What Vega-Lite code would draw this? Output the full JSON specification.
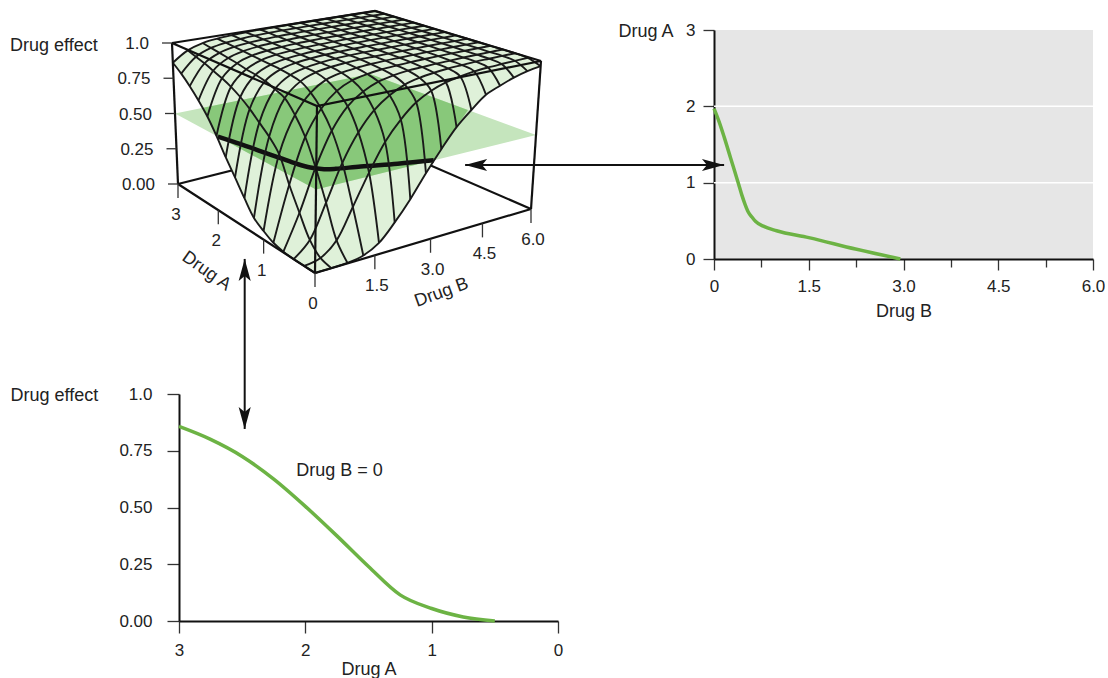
{"$schema":"https://vega.github.io/schema/vega-lite/v6.json","padding":{"left":10,"top":6,"right":0,"bottom":0},"background":"white","config":{"font":"Liberation Sans","view":{"stroke":null},"axis":{"labelFont":"Liberation Sans","titleFont":"Liberation Sans","labelFontSize":17,"titleFontSize":18,"titleFontWeight":"normal","labelColor":"#222","titleColor":"#222","domainColor":"#111","domainWidth":2,"tickColor":"#333","tickWidth":1.3,"grid":false,"labelFlush":false,"labelOverlap":false},"text":{"font":"Liberation Sans","fontSize":17,"color":"#222"}},"datasets":{"isobole":[{"drugB":0,"drugA":1.97},{"drugB":0.08,"drugA":1.8},{"drugB":0.16,"drugA":1.6},{"drugB":0.26,"drugA":1.33},{"drugB":0.39,"drugA":0.98},{"drugB":0.44,"drugA":0.84},{"drugB":0.49,"drugA":0.72},{"drugB":0.54,"drugA":0.62},{"drugB":0.6,"drugA":0.55},{"drugB":0.66,"drugA":0.49},{"drugB":0.78,"drugA":0.43},{"drugB":0.99,"drugA":0.37},{"drugB":1.5,"drugA":0.28},{"drugB":2.24,"drugA":0.13},{"drugB":2.95,"drugA":0}],"dose":[{"drugA":3,"effect":0.857},{"drugA":2.75,"effect":0.8},{"drugA":2.5,"effect":0.725},{"drugA":2.25,"effect":0.625},{"drugA":2,"effect":0.505},{"drugA":1.75,"effect":0.375},{"drugA":1.5,"effect":0.24},{"drugA":1.25,"effect":0.115},{"drugA":1,"effect":0.055},{"drugA":0.75,"effect":0.018},{"drugA":0.5,"effect":0}]},"vconcat":[{"hconcat":[{"width":500,"height":229,"data":{"values":[
{"part":"s","A":0,"B":0,"E":0},{"part":"s","A":0,"B":0.4,"E":0},{"part":"s","A":0,"B":0.8,"E":0.003},{"part":"s","A":0,"B":1.2,"E":0.02},{"part":"s","A":0,"B":1.6,"E":0.07},{"part":"s","A":0,"B":2,"E":0.17},{"part":"s","A":0,"B":2.4,"E":0.29},{"part":"s","A":0,"B":2.8,"E":0.43},{"part":"s","A":0,"B":3.2,"E":0.56},{"part":"s","A":0,"B":3.6,"E":0.68},{"part":"s","A":0,"B":4,"E":0.77},{"part":"s","A":0,"B":4.4,"E":0.85},{"part":"s","A":0,"B":4.8,"E":0.89},{"part":"s","A":0,"B":5.2,"E":0.925},{"part":"s","A":0,"B":5.6,"E":0.95},{"part":"s","A":0,"B":6,"E":0.965},
{"part":"s","A":0.2,"B":0,"E":0},{"part":"s","A":0.2,"B":0.4,"E":0.02},{"part":"s","A":0.2,"B":0.8,"E":0.1},{"part":"s","A":0.2,"B":1.2,"E":0.28},{"part":"s","A":0.2,"B":1.6,"E":0.47},{"part":"s","A":0.2,"B":2,"E":0.64},{"part":"s","A":0.2,"B":2.4,"E":0.76},{"part":"s","A":0.2,"B":2.8,"E":0.85},{"part":"s","A":0.2,"B":3.2,"E":0.905},{"part":"s","A":0.2,"B":3.6,"E":0.94},{"part":"s","A":0.2,"B":4,"E":0.96},{"part":"s","A":0.2,"B":4.4,"E":0.975},{"part":"s","A":0.2,"B":4.8,"E":0.983},{"part":"s","A":0.2,"B":5.2,"E":0.988},{"part":"s","A":0.2,"B":5.6,"E":0.992},{"part":"s","A":0.2,"B":6,"E":0.995},
{"part":"s","A":0.4,"B":0,"E":0},{"part":"s","A":0.4,"B":0.4,"E":0.09},{"part":"s","A":0.4,"B":0.8,"E":0.295},{"part":"s","A":0.4,"B":1.2,"E":0.52},{"part":"s","A":0.4,"B":1.6,"E":0.69},{"part":"s","A":0.4,"B":2,"E":0.81},{"part":"s","A":0.4,"B":2.4,"E":0.885},{"part":"s","A":0.4,"B":2.8,"E":0.935},{"part":"s","A":0.4,"B":3.2,"E":0.96},{"part":"s","A":0.4,"B":3.6,"E":0.975},{"part":"s","A":0.4,"B":4,"E":0.985},{"part":"s","A":0.4,"B":4.4,"E":0.99},{"part":"s","A":0.4,"B":4.8,"E":0.995},{"part":"s","A":0.4,"B":5.2,"E":0.997},{"part":"s","A":0.4,"B":5.6,"E":0.999},{"part":"s","A":0.4,"B":6,"E":1},
{"part":"s","A":0.6,"B":0,"E":0.005},{"part":"s","A":0.6,"B":0.4,"E":0.22},{"part":"s","A":0.6,"B":0.8,"E":0.48},{"part":"s","A":0.6,"B":1.2,"E":0.69},{"part":"s","A":0.6,"B":1.6,"E":0.825},{"part":"s","A":0.6,"B":2,"E":0.9},{"part":"s","A":0.6,"B":2.4,"E":0.945},{"part":"s","A":0.6,"B":2.8,"E":0.967},{"part":"s","A":0.6,"B":3.2,"E":0.98},{"part":"s","A":0.6,"B":3.6,"E":0.985},{"part":"s","A":0.6,"B":4,"E":0.99},{"part":"s","A":0.6,"B":4.4,"E":0.993},{"part":"s","A":0.6,"B":4.8,"E":0.996},{"part":"s","A":0.6,"B":5.2,"E":0.998},{"part":"s","A":0.6,"B":5.6,"E":0.999},{"part":"s","A":0.6,"B":6,"E":1},
{"part":"s","A":0.8,"B":0,"E":0.02},{"part":"s","A":0.8,"B":0.4,"E":0.36},{"part":"s","A":0.8,"B":0.8,"E":0.64},{"part":"s","A":0.8,"B":1.2,"E":0.8},{"part":"s","A":0.8,"B":1.6,"E":0.895},{"part":"s","A":0.8,"B":2,"E":0.945},{"part":"s","A":0.8,"B":2.4,"E":0.967},{"part":"s","A":0.8,"B":2.8,"E":0.98},{"part":"s","A":0.8,"B":3.2,"E":0.987},{"part":"s","A":0.8,"B":3.6,"E":0.992},{"part":"s","A":0.8,"B":4,"E":0.995},{"part":"s","A":0.8,"B":4.4,"E":0.997},{"part":"s","A":0.8,"B":4.8,"E":0.998},{"part":"s","A":0.8,"B":5.2,"E":0.999},{"part":"s","A":0.8,"B":5.6,"E":1},{"part":"s","A":0.8,"B":6,"E":1},
{"part":"s","A":1,"B":0,"E":0.055},{"part":"s","A":1,"B":0.4,"E":0.52},{"part":"s","A":1,"B":0.8,"E":0.75},{"part":"s","A":1,"B":1.2,"E":0.875},{"part":"s","A":1,"B":1.6,"E":0.94},{"part":"s","A":1,"B":2,"E":0.967},{"part":"s","A":1,"B":2.4,"E":0.98},{"part":"s","A":1,"B":2.8,"E":0.988},{"part":"s","A":1,"B":3.2,"E":0.993},{"part":"s","A":1,"B":3.6,"E":0.995},{"part":"s","A":1,"B":4,"E":0.997},{"part":"s","A":1,"B":4.4,"E":0.998},{"part":"s","A":1,"B":4.8,"E":0.999},{"part":"s","A":1,"B":5.2,"E":1},{"part":"s","A":1,"B":5.6,"E":1},{"part":"s","A":1,"B":6,"E":1},
{"part":"s","A":1.2,"B":0,"E":0.1},{"part":"s","A":1.2,"B":0.4,"E":0.6},{"part":"s","A":1.2,"B":0.8,"E":0.83},{"part":"s","A":1.2,"B":1.2,"E":0.92},{"part":"s","A":1.2,"B":1.6,"E":0.96},{"part":"s","A":1.2,"B":2,"E":0.978},{"part":"s","A":1.2,"B":2.4,"E":0.987},{"part":"s","A":1.2,"B":2.8,"E":0.993},{"part":"s","A":1.2,"B":3.2,"E":0.995},{"part":"s","A":1.2,"B":3.6,"E":0.997},{"part":"s","A":1.2,"B":4,"E":0.998},{"part":"s","A":1.2,"B":4.4,"E":0.999},{"part":"s","A":1.2,"B":4.8,"E":1},{"part":"s","A":1.2,"B":5.2,"E":1},{"part":"s","A":1.2,"B":5.6,"E":1},{"part":"s","A":1.2,"B":6,"E":1},
{"part":"s","A":1.4,"B":0,"E":0.19},{"part":"s","A":1.4,"B":0.4,"E":0.66},{"part":"s","A":1.4,"B":0.8,"E":0.86},{"part":"s","A":1.4,"B":1.2,"E":0.935},{"part":"s","A":1.4,"B":1.6,"E":0.965},{"part":"s","A":1.4,"B":2,"E":0.98},{"part":"s","A":1.4,"B":2.4,"E":0.99},{"part":"s","A":1.4,"B":2.8,"E":0.994},{"part":"s","A":1.4,"B":3.2,"E":0.997},{"part":"s","A":1.4,"B":3.6,"E":0.998},{"part":"s","A":1.4,"B":4,"E":0.999},{"part":"s","A":1.4,"B":4.4,"E":1},{"part":"s","A":1.4,"B":4.8,"E":1},{"part":"s","A":1.4,"B":5.2,"E":1},{"part":"s","A":1.4,"B":5.6,"E":1},{"part":"s","A":1.4,"B":6,"E":1},
{"part":"s","A":1.6,"B":0,"E":0.29},{"part":"s","A":1.6,"B":0.4,"E":0.72},{"part":"s","A":1.6,"B":0.8,"E":0.885},{"part":"s","A":1.6,"B":1.2,"E":0.945},{"part":"s","A":1.6,"B":1.6,"E":0.97},{"part":"s","A":1.6,"B":2,"E":0.982},{"part":"s","A":1.6,"B":2.4,"E":0.99},{"part":"s","A":1.6,"B":2.8,"E":0.994},{"part":"s","A":1.6,"B":3.2,"E":0.997},{"part":"s","A":1.6,"B":3.6,"E":0.998},{"part":"s","A":1.6,"B":4,"E":0.999},{"part":"s","A":1.6,"B":4.4,"E":1},{"part":"s","A":1.6,"B":4.8,"E":1},{"part":"s","A":1.6,"B":5.2,"E":1},{"part":"s","A":1.6,"B":5.6,"E":1},{"part":"s","A":1.6,"B":6,"E":1},
{"part":"s","A":1.8,"B":0,"E":0.39},{"part":"s","A":1.8,"B":0.4,"E":0.77},{"part":"s","A":1.8,"B":0.8,"E":0.9},{"part":"s","A":1.8,"B":1.2,"E":0.95},{"part":"s","A":1.8,"B":1.6,"E":0.972},{"part":"s","A":1.8,"B":2,"E":0.983},{"part":"s","A":1.8,"B":2.4,"E":0.99},{"part":"s","A":1.8,"B":2.8,"E":0.994},{"part":"s","A":1.8,"B":3.2,"E":0.997},{"part":"s","A":1.8,"B":3.6,"E":0.998},{"part":"s","A":1.8,"B":4,"E":0.999},{"part":"s","A":1.8,"B":4.4,"E":1},{"part":"s","A":1.8,"B":4.8,"E":1},{"part":"s","A":1.8,"B":5.2,"E":1},{"part":"s","A":1.8,"B":5.6,"E":1},{"part":"s","A":1.8,"B":6,"E":1},
{"part":"s","A":2,"B":0,"E":0.5},{"part":"s","A":2,"B":0.4,"E":0.81},{"part":"s","A":2,"B":0.8,"E":0.91},{"part":"s","A":2,"B":1.2,"E":0.955},{"part":"s","A":2,"B":1.6,"E":0.975},{"part":"s","A":2,"B":2,"E":0.985},{"part":"s","A":2,"B":2.4,"E":0.99},{"part":"s","A":2,"B":2.8,"E":0.994},{"part":"s","A":2,"B":3.2,"E":0.997},{"part":"s","A":2,"B":3.6,"E":0.998},{"part":"s","A":2,"B":4,"E":0.999},{"part":"s","A":2,"B":4.4,"E":1},{"part":"s","A":2,"B":4.8,"E":1},{"part":"s","A":2,"B":5.2,"E":1},{"part":"s","A":2,"B":5.6,"E":1},{"part":"s","A":2,"B":6,"E":1},
{"part":"s","A":2.2,"B":0,"E":0.6},{"part":"s","A":2.2,"B":0.4,"E":0.84},{"part":"s","A":2.2,"B":0.8,"E":0.925},{"part":"s","A":2.2,"B":1.2,"E":0.96},{"part":"s","A":2.2,"B":1.6,"E":0.977},{"part":"s","A":2.2,"B":2,"E":0.986},{"part":"s","A":2.2,"B":2.4,"E":0.992},{"part":"s","A":2.2,"B":2.8,"E":0.995},{"part":"s","A":2.2,"B":3.2,"E":0.997},{"part":"s","A":2.2,"B":3.6,"E":0.998},{"part":"s","A":2.2,"B":4,"E":0.999},{"part":"s","A":2.2,"B":4.4,"E":1},{"part":"s","A":2.2,"B":4.8,"E":1},{"part":"s","A":2.2,"B":5.2,"E":1},{"part":"s","A":2.2,"B":5.6,"E":1},{"part":"s","A":2.2,"B":6,"E":1},
{"part":"s","A":2.4,"B":0,"E":0.68},{"part":"s","A":2.4,"B":0.4,"E":0.865},{"part":"s","A":2.4,"B":0.8,"E":0.935},{"part":"s","A":2.4,"B":1.2,"E":0.965},{"part":"s","A":2.4,"B":1.6,"E":0.98},{"part":"s","A":2.4,"B":2,"E":0.988},{"part":"s","A":2.4,"B":2.4,"E":0.993},{"part":"s","A":2.4,"B":2.8,"E":0.996},{"part":"s","A":2.4,"B":3.2,"E":0.998},{"part":"s","A":2.4,"B":3.6,"E":0.999},{"part":"s","A":2.4,"B":4,"E":1},{"part":"s","A":2.4,"B":4.4,"E":1},{"part":"s","A":2.4,"B":4.8,"E":1},{"part":"s","A":2.4,"B":5.2,"E":1},{"part":"s","A":2.4,"B":5.6,"E":1},{"part":"s","A":2.4,"B":6,"E":1},
{"part":"s","A":2.6,"B":0,"E":0.75},{"part":"s","A":2.6,"B":0.4,"E":0.89},{"part":"s","A":2.6,"B":0.8,"E":0.945},{"part":"s","A":2.6,"B":1.2,"E":0.97},{"part":"s","A":2.6,"B":1.6,"E":0.983},{"part":"s","A":2.6,"B":2,"E":0.99},{"part":"s","A":2.6,"B":2.4,"E":0.994},{"part":"s","A":2.6,"B":2.8,"E":0.997},{"part":"s","A":2.6,"B":3.2,"E":0.998},{"part":"s","A":2.6,"B":3.6,"E":0.999},{"part":"s","A":2.6,"B":4,"E":1},{"part":"s","A":2.6,"B":4.4,"E":1},{"part":"s","A":2.6,"B":4.8,"E":1},{"part":"s","A":2.6,"B":5.2,"E":1},{"part":"s","A":2.6,"B":5.6,"E":1},{"part":"s","A":2.6,"B":6,"E":1},
{"part":"s","A":2.8,"B":0,"E":0.81},{"part":"s","A":2.8,"B":0.4,"E":0.91},{"part":"s","A":2.8,"B":0.8,"E":0.955},{"part":"s","A":2.8,"B":1.2,"E":0.975},{"part":"s","A":2.8,"B":1.6,"E":0.985},{"part":"s","A":2.8,"B":2,"E":0.992},{"part":"s","A":2.8,"B":2.4,"E":0.996},{"part":"s","A":2.8,"B":2.8,"E":0.998},{"part":"s","A":2.8,"B":3.2,"E":0.999},{"part":"s","A":2.8,"B":3.6,"E":1},{"part":"s","A":2.8,"B":4,"E":1},{"part":"s","A":2.8,"B":4.4,"E":1},{"part":"s","A":2.8,"B":4.8,"E":1},{"part":"s","A":2.8,"B":5.2,"E":1},{"part":"s","A":2.8,"B":5.6,"E":1},{"part":"s","A":2.8,"B":6,"E":1},
{"part":"s","A":3,"B":0,"E":0.86},{"part":"s","A":3,"B":0.4,"E":0.93},{"part":"s","A":3,"B":0.8,"E":0.965},{"part":"s","A":3,"B":1.2,"E":0.98},{"part":"s","A":3,"B":1.6,"E":0.988},{"part":"s","A":3,"B":2,"E":0.993},{"part":"s","A":3,"B":2.4,"E":0.996},{"part":"s","A":3,"B":2.8,"E":0.998},{"part":"s","A":3,"B":3.2,"E":0.999},{"part":"s","A":3,"B":3.6,"E":1},{"part":"s","A":3,"B":4,"E":1},{"part":"s","A":3,"B":4.4,"E":1},{"part":"s","A":3,"B":4.8,"E":1},{"part":"s","A":3,"B":5.2,"E":1},{"part":"s","A":3,"B":5.6,"E":1},{"part":"s","A":3,"B":6,"E":1},
{"part":"plane","A":3,"B":0,"E":0.5,"seq":0},{"part":"plane","A":3,"B":6,"E":0.5,"seq":1},{"part":"plane","A":0,"B":6,"E":0.5,"seq":2},{"part":"plane","A":0,"B":0,"E":0.5,"seq":3},
{"part":"over","A":3,"B":0.77,"E":0.5,"seq":0},{"part":"over","A":3,"B":6,"E":0.5,"seq":1},{"part":"over","A":1.1,"B":6,"E":0.5,"seq":2},{"part":"over","A":0,"B":3,"E":0.5,"seq":3},{"part":"over","A":0,"B":0,"E":0.5,"seq":4},{"part":"over","A":2,"B":0,"E":0.5,"seq":5},
{"part":"contour","A":1.97,"B":0,"E":0.5},{"part":"contour","A":1.6,"B":0.16,"E":0.5},{"part":"contour","A":1.33,"B":0.26,"E":0.5},{"part":"contour","A":0.98,"B":0.39,"E":0.5},{"part":"contour","A":0.72,"B":0.49,"E":0.5},{"part":"contour","A":0.55,"B":0.6,"E":0.5},{"part":"contour","A":0.43,"B":0.78,"E":0.5},{"part":"contour","A":0.37,"B":0.99,"E":0.5},{"part":"contour","A":0.28,"B":1.5,"E":0.5},{"part":"contour","A":0.13,"B":2.24,"E":0.5},{"part":"contour","A":0,"B":3,"E":0.5},
{"part":"back","edge":"a","A":3,"B":0,"E":0,"seq":0},{"part":"back","edge":"a","A":3,"B":6,"E":0,"seq":1},{"part":"back","edge":"b","A":0,"B":6,"E":0,"seq":0},{"part":"back","edge":"b","A":3,"B":6,"E":0,"seq":1},
{"part":"box","edge":"left","A":3,"B":0,"E":0,"seq":0},{"part":"box","edge":"left","A":3,"B":0,"E":1,"seq":1},{"part":"box","edge":"right","A":0,"B":6,"E":0,"seq":0},{"part":"box","edge":"right","A":0,"B":6,"E":1,"seq":1},{"part":"box","edge":"front","A":0,"B":0,"E":0,"seq":0},{"part":"box","edge":"front","A":0,"B":0,"E":1,"seq":1},
{"part":"box","edge":"top","A":3,"B":0,"E":1,"seq":0},{"part":"box","edge":"top","A":3,"B":6,"E":1,"seq":1},{"part":"box","edge":"top","A":0,"B":6,"E":1,"seq":2},{"part":"box","edge":"top","A":0,"B":0,"E":1,"seq":3},{"part":"box","edge":"top","A":3,"B":0,"E":1,"seq":4},
{"part":"box","edge":"base","A":3,"B":0,"E":0,"seq":0},{"part":"box","edge":"base","A":0,"B":0,"E":0,"seq":1},{"part":"box","edge":"base","A":0,"B":6,"E":0,"seq":2},
{"part":"ztick","A":3,"B":0,"E":0,"label":"0.00"},{"part":"ztick","A":3,"B":0,"E":0.25,"label":"0.25"},{"part":"ztick","A":3,"B":0,"E":0.5,"label":"0.50"},{"part":"ztick","A":3,"B":0,"E":0.75,"label":"0.75"},{"part":"ztick","A":3,"B":0,"E":1,"label":"1.0"},
{"part":"atick","A":3,"B":0,"E":0,"label":"3"},{"part":"atick","A":2,"B":0,"E":0,"label":"2"},{"part":"atick","A":1,"B":0,"E":0,"label":"1"},{"part":"atick","A":0,"B":0,"E":0,"label":"0"},
{"part":"btick","A":0,"B":1.5,"E":0,"label":"1.5"},{"part":"btick","A":0,"B":3,"E":0,"label":"3.0"},{"part":"btick","A":0,"B":4.5,"E":0,"label":"4.5"},{"part":"btick","A":0,"B":6,"E":0,"label":"6.0"},
{"part":"ztitle","A":3,"B":0,"E":1,"label":"Drug effect"},{"part":"atitle","A":2,"B":0,"E":0,"label":"Drug A"},{"part":"btitle","A":0,"B":3,"E":0,"label":"Drug B"}
]},"transform":[{"calculate":"1.2*(datum.A/3)/(1+0.2*datum.A/3)","as":"fa"},{"calculate":"1.15*(datum.B/6)/(1+0.15*datum.B/6)","as":"fb"},{"calculate":"(1-datum.fa)*(1-datum.fb)*315+datum.fa*(1-datum.fb)*178+(1-datum.fa)*datum.fb*531+datum.fa*datum.fb*365","as":"x0"},{"calculate":"(1-datum.fa)*(1-datum.fb)*272+datum.fa*(1-datum.fb)*183+(1-datum.fa)*datum.fb*208+datum.fa*datum.fb*136","as":"y0"},{"calculate":"(1-datum.fa)*(1-datum.fb)*317+datum.fa*(1-datum.fb)*172+(1-datum.fa)*datum.fb*541+datum.fa*datum.fb*375","as":"x1"},{"calculate":"(1-datum.fa)*(1-datum.fb)*105+datum.fa*(1-datum.fb)*42+(1-datum.fa)*datum.fb*60+datum.fa*datum.fb*10","as":"y1"},{"calculate":"datum.x0+(datum.x1-datum.x0)*datum.E","as":"sx"},{"calculate":"datum.y0+(datum.y1-datum.y0)*datum.E","as":"sy"},{"calculate":"datum.B==0?datum.A*5:datum.A==3?15+datum.B*2.5:datum.B==6?30+(3-datum.A)*5:45+(6-datum.B)*2.5","as":"rim"},{"calculate":"datum.sx-10","as":"tx"},{"calculate":"datum.sy+14","as":"ty"}],"encoding":{"x":{"field":"sx","type":"quantitative","scale":{"domain":[179,679],"nice":false,"zero":false},"axis":null},"y":{"field":"sy","type":"quantitative","scale":{"domain":[258,29],"nice":false,"zero":false},"axis":null}},"layer":[
{"transform":[{"filter":"datum.part=='back'"}],"mark":{"type":"line","color":"#111","strokeWidth":2.2},"encoding":{"detail":{"field":"edge"},"order":{"field":"seq","type":"quantitative"}}},
{"transform":[{"filter":"datum.part=='s'&&(datum.A==0||datum.A==3||datum.B==0||datum.B==6)"}],"mark":{"type":"line","fill":"#dff1d9","stroke":null,"interpolate":"linear"},"encoding":{"order":{"field":"rim","type":"quantitative"}}},
{"transform":[{"filter":"datum.part=='plane'"}],"mark":{"type":"line","fill":"#c5e5bd","stroke":null},"encoding":{"order":{"field":"seq","type":"quantitative"}}},
{"transform":[{"filter":"datum.part=='over'"}],"mark":{"type":"line","fill":"#88c87a","stroke":null},"encoding":{"order":{"field":"seq","type":"quantitative"}}},
{"transform":[{"filter":"datum.part=='contour'"}],"mark":{"type":"line","color":"#111","strokeWidth":4.5,"interpolate":"catmull-rom"},"encoding":{"order":{"field":"B","type":"quantitative"}}},
{"transform":[{"filter":"datum.part=='s'"}],"mark":{"type":"line","color":"#1a1a1a","strokeWidth":1.9,"interpolate":"catmull-rom"},"encoding":{"detail":{"field":"A"},"order":{"field":"B","type":"quantitative"}}},
{"transform":[{"filter":"datum.part=='s'"}],"mark":{"type":"line","color":"#1a1a1a","strokeWidth":1.9,"interpolate":"catmull-rom"},"encoding":{"detail":{"field":"B"},"order":{"field":"A","type":"quantitative"}}},
{"transform":[{"filter":"datum.part=='box'"}],"mark":{"type":"line","color":"#111","strokeWidth":2.2},"encoding":{"detail":{"field":"edge"},"order":{"field":"seq","type":"quantitative"}}},
{"transform":[{"filter":"datum.part=='ztick'"}],"mark":{"type":"rule","color":"#333","strokeWidth":1.3},"encoding":{"x2":{"field":"tx"}}},
{"transform":[{"filter":"datum.part=='atick'||datum.part=='btick'"}],"mark":{"type":"rule","color":"#333","strokeWidth":1.3},"encoding":{"y2":{"field":"ty"}}},
{"transform":[{"filter":"datum.part=='ztick'"}],"mark":{"type":"text","align":"right","baseline":"middle","dx":-23,"dy":1},"encoding":{"text":{"field":"label"}}},
{"transform":[{"filter":"datum.part=='atick'"}],"mark":{"type":"text","align":"center","baseline":"middle","dx":-2,"dy":31},"encoding":{"text":{"field":"label"}}},
{"transform":[{"filter":"datum.part=='btick'"}],"mark":{"type":"text","align":"center","baseline":"middle","dx":2,"dy":31},"encoding":{"text":{"field":"label"}}},
{"transform":[{"filter":"datum.part=='ztitle'"}],"mark":{"type":"text","fontSize":18,"align":"left","baseline":"middle","dx":-162,"dy":3},"encoding":{"text":{"field":"label"}}},
{"transform":[{"filter":"datum.part=='atitle'"},{"calculate":"datum.sx-12","as":"lx"},{"calculate":"datum.sy+61","as":"ly"}],"mark":{"type":"text","fontSize":18,"align":"center","baseline":"middle","angle":35},"encoding":{"x":{"field":"lx","type":"quantitative"},"y":{"field":"ly","type":"quantitative"},"text":{"field":"label"}}},
{"transform":[{"filter":"datum.part=='btitle'"},{"calculate":"datum.sx+11","as":"lx"},{"calculate":"datum.sy+54","as":"ly"}],"mark":{"type":"text","fontSize":18,"align":"center","baseline":"middle","angle":-20},"encoding":{"x":{"field":"lx","type":"quantitative"},"y":{"field":"ly","type":"quantitative"},"text":{"field":"label"}}}
]},{"width":379,"height":229,"view":{"fill":"#e6e6e6","stroke":null},"layer":[
{"data":{"values":[{"drugA":1},{"drugA":2}]},"mark":{"type":"rule","color":"white","strokeWidth":1.5},"encoding":{"y":{"field":"drugA","type":"quantitative","scale":{"domain":[0,3],"nice":false}}}},
{"data":{"name":"isobole"},"mark":{"type":"line","color":"#6cb344","strokeWidth":3.5,"interpolate":"monotone"},"encoding":{"x":{"field":"drugB","type":"quantitative","scale":{"domain":[0,6],"nice":false},"axis":{"title":"Drug B","values":[0,0.75,1.5,2.25,3,3.75,4.5,5.25,6],"labelExpr":"datum.value==0?'0':(datum.value%1.5==0?format(datum.value,'.1f'):'')","tickSize":{"condition":{"test":"datum.value%1.5!=0","value":8},"value":11},"labelPadding":8,"titlePadding":8}},"y":{"field":"drugA","type":"quantitative","scale":{"domain":[0,3],"nice":false},"axis":{"title":"Drug A","titleAngle":0,"titleAlign":"left","titleBaseline":"middle","titleX":-96,"titleY":1,"values":[0,0.5,1,1.5,2,2.5,3],"labelExpr":"datum.value%1==0?format(datum.value,'d'):''","tickSize":{"condition":{"test":"datum.value%1!=0","value":8},"value":11},"labelPadding":8}}}},
{"data":{"values":[{"drugB":-3.94,"tip":0.16,"drugA":1.232}]},"mark":{"type":"rule","color":"#111","strokeWidth":2},"encoding":{"x":{"field":"drugB","type":"quantitative"},"x2":{"field":"tip"},"y":{"field":"drugA","type":"quantitative"}}},
{"data":{"values":[{"drugB":-3.766,"drugA":1.232}]},"mark":{"type":"point","filled":true,"color":"#111","opacity":1,"shape":"M-1,0 L1,-0.55 L0.55,0 L1,0.55 Z","size":484},"encoding":{"x":{"field":"drugB","type":"quantitative"},"y":{"field":"drugA","type":"quantitative"}}},
{"data":{"values":[{"drugB":-0.016,"drugA":1.232}]},"mark":{"type":"point","filled":true,"color":"#111","opacity":1,"shape":"M1,0 L-1,-0.55 L-0.55,0 L-1,0.55 Z","size":484},"encoding":{"x":{"field":"drugB","type":"quantitative"},"y":{"field":"drugA","type":"quantitative"}}}
]}],"spacing":35,"bounds":"flush"},{"width":379,"height":227,"layer":[
{"data":{"name":"dose"},"mark":{"type":"line","color":"#6cb344","strokeWidth":3.5,"interpolate":"monotone"},"encoding":{"x":{"field":"drugA","type":"quantitative","scale":{"domain":[3,0],"nice":false,"zero":false},"axis":{"title":"Drug A","values":[3,2,1,0],"format":"d","tickSize":12,"labelPadding":9,"titlePadding":2}},"y":{"field":"effect","type":"quantitative","scale":{"domain":[0,1],"nice":false},"axis":{"title":"Drug effect","titleAngle":0,"titleAlign":"left","titleBaseline":"middle","titleX":-169,"titleY":1,"values":[0,0.25,0.5,0.75,1],"labelExpr":"datum.value==1?'1.0':format(datum.value,'.2f')","tickSize":12,"labelPadding":15}}}},
{"data":{"values":[{"drugA":1.73,"effect":0.66,"note":"Drug B = 0"}]},"mark":{"type":"text","fontSize":18,"align":"center","baseline":"middle"},"encoding":{"x":{"field":"drugA","type":"quantitative"},"y":{"field":"effect","type":"quantitative"},"text":{"field":"note"}}},
{"data":{"values":[{"drugA":2.48,"effect":0.846,"tip":1.595}]},"mark":{"type":"rule","color":"#111","strokeWidth":2},"encoding":{"x":{"field":"drugA","type":"quantitative"},"y":{"field":"effect","type":"quantitative"},"y2":{"field":"tip"}}},
{"data":{"values":[{"drugA":2.48,"effect":1.546}]},"mark":{"type":"point","filled":true,"color":"#111","opacity":1,"shape":"M0,-1 L-0.55,1 L0,0.55 L0.55,1 Z","size":484},"encoding":{"x":{"field":"drugA","type":"quantitative"},"y":{"field":"effect","type":"quantitative"}}},
{"data":{"values":[{"drugA":2.48,"effect":0.894}]},"mark":{"type":"point","filled":true,"color":"#111","opacity":1,"shape":"M0,1 L-0.55,-1 L0,-0.55 L0.55,-1 Z","size":484},"encoding":{"x":{"field":"drugA","type":"quantitative"},"y":{"field":"effect","type":"quantitative"}}}
]}],"spacing":364,"bounds":"flush"}
